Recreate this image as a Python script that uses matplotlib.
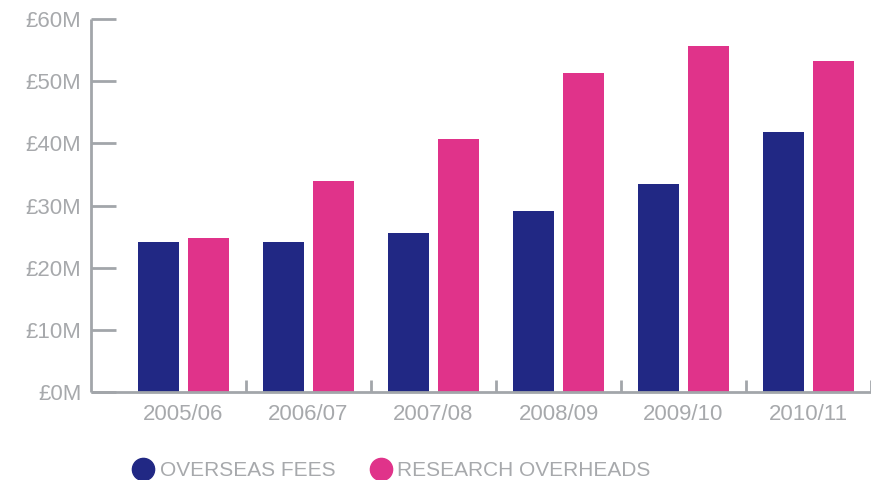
import matplotlib
matplotlib.use('Agg')
import matplotlib.pyplot as plt
from matplotlib.lines import Line2D
import numpy as np

# Data
years = ['2005/06', '2006/07', '2007/08', '2008/09', '2009/10', '2010/11']
overseas_fees = [24.1, 24.1, 25.6, 29.1, 33.5, 41.8]
research_overheads = [24.8, 33.9, 40.7, 51.3, 55.7, 53.2]
y_ticks = [0, 10, 20, 30, 40, 50, 60]

navy = '#212884'
pink = '#E0338A'
grey_axis = '#A2A6AA'
grey_text = '#A7A9AC'

plt.rcParams['font.family'] = ['Liberation Sans', 'DejaVu Sans']

fig = plt.figure(figsize=(8.71, 4.8), dpi=100)
ax = fig.add_axes([91 / 871, 1 - 392 / 480, 780 / 871, (392 - 19) / 480])

x = np.arange(len(years))
w = 0.328
ax.bar(x - 0.2, overseas_fees, width=w, color=navy, zorder=2)
ax.bar(x + 0.2, research_overheads, width=w, color=pink, zorder=2)

ax.set_xlim(-0.74, 5.5)
ax.set_ylim(0, 60)

# spines
for s in ['top', 'right']:
    ax.spines[s].set_visible(False)
for s in ['left', 'bottom']:
    ax.spines[s].set_color(grey_axis)
    ax.spines[s].set_linewidth(2)
    ax.spines[s].set_capstyle('butt')

# y ticks point inward
ax.set_yticks(y_ticks)
ax.set_yticklabels(['£%dM' % v for v in y_ticks])
ax.tick_params(axis='y', direction='in', length=18, width=2, color=grey_axis,
               labelcolor=grey_text, labelsize=16, pad=7)

# x ticks: labels at group centres, small marks between groups
ax.set_xticks(x)
ax.set_xticklabels(years)
ax.tick_params(axis='x', length=0, labelcolor=grey_text, labelsize=16, pad=9)
ax.set_xticks(x + 0.5, minor=True)
ax.tick_params(axis='x', which='minor', direction='in', length=9, width=2,
               color=grey_axis)

handles = [
    Line2D([], [], marker='o', linestyle='none', markersize=16,
           markerfacecolor=navy, markeredgecolor=navy, label='OVERSEAS FEES'),
    Line2D([], [], marker='o', linestyle='none', markersize=16,
           markerfacecolor=pink, markeredgecolor=pink, label='RESEARCH OVERHEADS'),
]
leg = fig.legend(handles=handles, loc='center left', ncol=2, frameon=False,
                 bbox_to_anchor=(133 / 871, 1 - 471 / 480),
                 handlelength=1.0, handletextpad=0.3, columnspacing=1.65,
                 fontsize=15, borderaxespad=0, borderpad=0)
for t in leg.get_texts():
    t.set_color(grey_text)

fig.savefig('out.png', dpi=100)
